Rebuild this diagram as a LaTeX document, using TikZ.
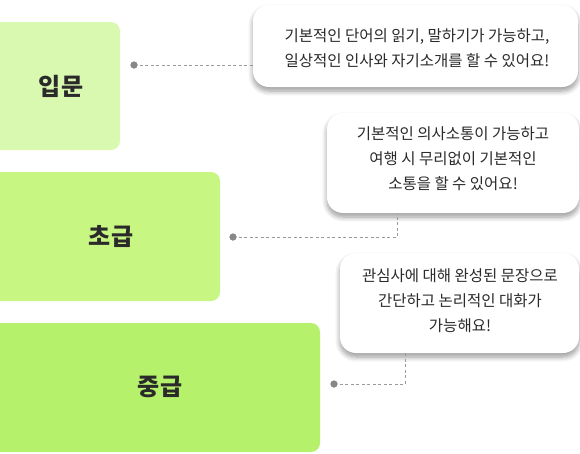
\documentclass[tikz,border=0pt]{standalone}
\usepackage{fontspec}
\setmainfont{Noto Sans CJK KR}
\usetikzlibrary{shadows.blur}
\definecolor{lvA}{HTML}{D9F8B0}
\definecolor{lvB}{HTML}{C7F682}
\definecolor{lvC}{HTML}{B6F16B}
\definecolor{txt}{HTML}{2A2A2A}
\definecolor{conn}{HTML}{9A9A9A}
\definecolor{dotc}{HTML}{888888}
\tikzset{
  levelbox/.style={rounded corners=9pt, draw=none},
  levellabel/.style={font=\fontsize{24}{28}\selectfont\bfseries, text=txt},
  bubble/.style={fill=white, rounded corners=16pt, draw=none,
    blur shadow={shadow xshift=0pt, shadow yshift=-4pt, shadow blur steps=8, shadow blur radius=5pt, shadow opacity=40, shadow blur extra rounding=2pt}},
  bubbletext/.style={font=\fontsize{15.5}{25}\selectfont, text=txt, align=center},
  connector/.style={draw=conn, line width=0.9pt, dash pattern=on 3pt off 2.5pt},
  enddot/.style={circle, fill=dotc, inner sep=0pt, minimum size=7pt},
}
\begin{document}
\begin{tikzpicture}[x=1pt,y=-1pt]
\useasboundingbox (0,0) rectangle (580,453);
\clip (0,0) rectangle (580,453);
% level boxes
\fill[levelbox, lvA] (-20,22) rectangle (120,150);
\fill[levelbox, lvB] (-20,172) rectangle (220,301);
\fill[levelbox, lvC] (-20,323) rectangle (320,452);
\node[levellabel] (l1) at (61,86) {입문};
\node[levellabel] (l2) at (111,237) {초급};
\node[levellabel] (l3) at (160,387) {중급};
% bubbles
\path[bubble] (253,5) rectangle (578,87);
\path[bubble] (327,113) rectangle (579,213);
\path[bubble] (340,253) rectangle (579,353);
\coordinate (b1in) at (253,65);
\coordinate (b2in) at (397,213);
\coordinate (b3in) at (405,353);
\node[bubbletext] (t1) at (417,48) {기본적인 단어의 읽기, 말하기가 가능하고,\\일상적인 인사와 자기소개를 할 수 있어요!};
\node[bubbletext] (t2) at (453,159) {기본적인 의사소통이 가능하고\\여행 시 무리없이 기본적인\\소통을 할 수 있어요!};
\node[bubbletext] (t3) at (460,301) {관심사에 대해 완성된 문장으로\\간단하고 논리적인 대화가\\가능해요!};
% connectors
\node[enddot] (d1) at (134,65) {};
\node[enddot] (d2) at (233,237) {};
\node[enddot] (d3) at (334,384) {};
\draw[connector] (d1.center) -- (b1in);
\draw[connector] (d2.center) -| (b2in);
\draw[connector] (d3.center) -| (b3in);
\node[enddot] at (d1) {};
\node[enddot] at (d2) {};
\node[enddot] at (d3) {};
\end{tikzpicture}
\end{document}
